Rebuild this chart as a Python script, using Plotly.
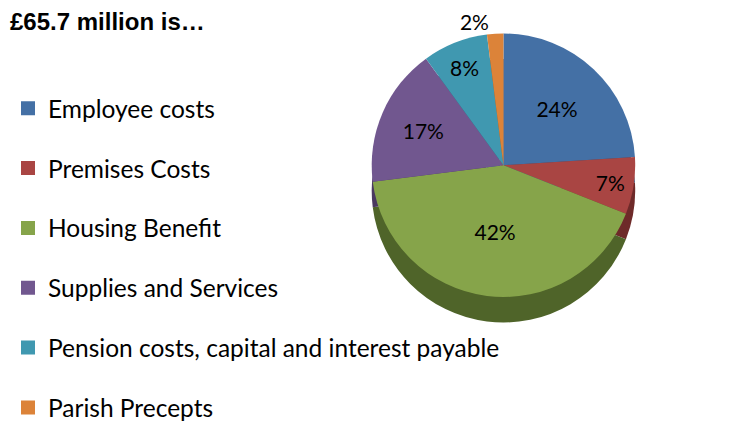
import plotly.graph_objects as go

# Spending breakdown, £65.7 million total (shares in %)
categories = ["Employee costs", "Premises Costs", "Housing Benefit",
              "Supplies and Services", "Pension costs, capital and interest payable",
              "Parish Precepts"]
shares = [24, 7, 42, 17, 8, 2]
colours = ["#4470A5", "#A94543", "#86A44A", "#71578F", "#4098B0", "#DC8339"]
side_colours = ["#2F4F78", "#6E2A29", "#4F6429", "#4A3960", "#2A6678", "#9A5A25"]

FONT = "Lato, 'Open Sans', sans-serif"

fig = go.Figure()

# darker copy a little lower, to hint at the side of the 3D pie
fig.add_trace(go.Pie(
    labels=categories, values=shares, sort=False, direction="clockwise", rotation=0,
    marker=dict(colors=side_colours, line=dict(width=0)),
    textinfo="none", hoverinfo="skip", showlegend=False,
    domain=dict(x=[0.365, 0.985], y=[0.26, 0.88]),
))

fig.add_trace(go.Pie(
    labels=categories, values=shares, sort=False, direction="clockwise", rotation=0,
    marker=dict(colors=colours, line=dict(width=0)),
    texttemplate="%{value}%",
    textposition=["inside", "inside", "inside", "inside", "inside", "outside"],
    insidetextorientation="horizontal",
    textfont=dict(family=FONT, size=21, color="black"),
    outsidetextfont=dict(family=FONT, size=21, color="black"),
    showlegend=False,
    domain=dict(x=[0.365, 0.985], y=[0.32, 0.94]),
))

# legend entries, one group each so they can be spaced out
for name, col in zip(categories, colours):
    fig.add_trace(go.Scatter(
        x=[None], y=[None], mode="markers", name=name, legendgroup=name,
        marker=dict(symbol="square", size=14, color=col),
    ))

fig.update_layout(
    width=734, height=425,
    margin=dict(l=0, r=0, t=0, b=0, autoexpand=False),
    paper_bgcolor="white", plot_bgcolor="white",
    xaxis=dict(visible=False), yaxis=dict(visible=False),
    legend=dict(x=0, xanchor="left", y=0.817, yanchor="top",
                bgcolor="rgba(0,0,0,0)", maxheight=800,
                font=dict(family=FONT, size=24.5, color="black"),
                tracegroupgap=25, traceorder="grouped"),
    annotations=[dict(text="<b>£65.7 million is…</b>", x=0, y=1.0,
                      xref="paper", yref="paper", xanchor="left", yanchor="top",
                      xshift=0, yshift=2, showarrow=False,
                      font=dict(family="Liberation Sans, Arial", size=24, color="black"))],
)

fig.write_html("out.html")
